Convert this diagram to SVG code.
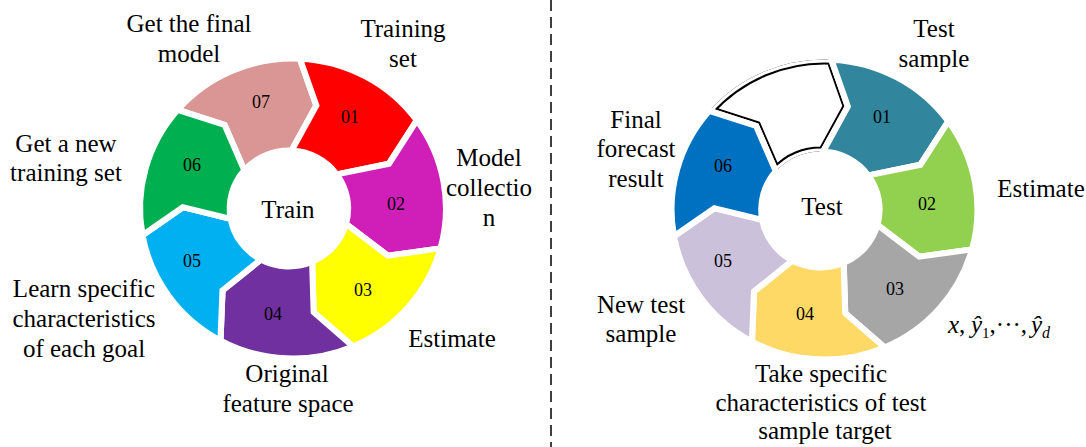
<svg xmlns="http://www.w3.org/2000/svg" xmlns:xlink="http://www.w3.org/1999/xlink" width="1086" height="447" viewBox="0 0 1086 447">
<style>
.seg{stroke:#fff;stroke-width:6;stroke-linejoin:miter}
.num{font-family:"Liberation Serif","Times New Roman",serif;font-size:18px;fill:#000;text-anchor:middle}
.lbl{font-family:"Liberation Serif","Times New Roman",serif;font-size:25px;fill:#000;text-anchor:middle}
.frm{font-family:"Liberation Serif","Times New Roman",serif;font-size:25px;fill:#000}
</style>
<defs>
<path id="s1" d="M6.72,-149.85 A150,150 0 0 1 121.35,-88.17 L94.07,-44.8 L42.92,-34.09 A58,58 0 0 0 -1.4,-57.94 L22.87,-103.04 Z"/>
<path id="s2" d="M121.35,-88.17 A150,150 0 0 1 144.6,39.9 L92.92,47.18 L51.91,15.43 A58,58 0 0 0 42.92,-34.09 L94.07,-44.8 Z"/>
<path id="s3" d="M144.6,39.9 A150,150 0 0 1 58.95,137.93 L20.29,103.63 L18.79,53.33 A58,58 0 0 0 51.91,15.43 L92.92,47.18 Z"/>
<path id="s4" d="M58.95,137.93 A150,150 0 0 1 -71.1,132.08 L-69.11,82.04 L-31.49,51.07 A58,58 0 0 0 18.79,53.33 L20.29,103.63 Z"/>
<path id="s5" d="M-71.1,132.08 A150,150 0 0 1 -147.59,26.79 L-107.99,-1.31 L-61.07,10.36 A58,58 0 0 0 -31.49,51.07 L-69.11,82.04 Z"/>
<path id="s6" d="M-147.59,26.79 A150,150 0 0 1 -112.97,-98.69 L-67.07,-83.69 L-47.68,-38.16 A58,58 0 0 0 -61.07,10.36 L-107.99,-1.31 Z"/>
<path id="s7" d="M-112.97,-98.69 A150,150 0 0 1 6.72,-149.85 L22.87,-103.04 L-1.4,-57.94 A58,58 0 0 0 -47.68,-38.16 L-67.07,-83.69 Z"/>
<clipPath id="clip7"><use href="#s7" xlink:href="#s7"/></clipPath>
</defs>
<rect x="0" y="0" width="1086" height="447" fill="#fff"/>

<g id="divider">
<line x1="551" y1="0" x2="551" y2="447" stroke="#000" stroke-width="1.5" stroke-dasharray="11 6"/>
</g>

<!-- Left cycle: Train -->
<g id="train-cycle">
<g transform="translate(293,208.5) scale(1.02,1)">
<g id="train-07"><use href="#s7" xlink:href="#s7" class="seg" fill="#D99694"/></g>
<g id="train-01"><use href="#s1" xlink:href="#s1" class="seg" fill="#FF0000"/></g>
<g id="train-02"><use href="#s2" xlink:href="#s2" class="seg" fill="#CF1FB8"/></g>
<g id="train-03"><use href="#s3" xlink:href="#s3" class="seg" fill="#FFFF00"/></g>
<g id="train-04"><use href="#s4" xlink:href="#s4" class="seg" fill="#7030A0"/></g>
<g id="train-05"><use href="#s5" xlink:href="#s5" class="seg" fill="#00B0F0"/></g>
<g id="train-06"><use href="#s6" xlink:href="#s6" class="seg" fill="#00B050"/></g>
</g>
<g id="train-nums">
<text class="num" x="350" y="123">01</text>
<text class="num" x="396" y="210">02</text>
<text class="num" x="363" y="296">03</text>
<text class="num" x="273" y="320">04</text>
<text class="num" x="192" y="267">05</text>
<text class="num" x="192" y="171">06</text>
<text class="num" x="261" y="108">07</text>
</g>
<g id="train-center"><text class="lbl" x="288" y="218">Train</text></g>
</g>

<g id="train-labels">
<text class="lbl" x="189" y="32">Get the final</text>
<text class="lbl" x="189" y="62">model</text>
<text class="lbl" x="403" y="37">Training</text>
<text class="lbl" x="403" y="67">set</text>
<text class="lbl" x="489" y="166">Model</text>
<text class="lbl" x="489" y="196">collectio</text>
<text class="lbl" x="489" y="226">n</text>
<text class="lbl" x="452" y="347">Estimate</text>
<text class="lbl" x="287" y="382">Original</text>
<text class="lbl" x="288" y="412">feature space</text>
<text class="lbl" x="84" y="297">Learn specific</text>
<text class="lbl" x="84" y="327">characteristics</text>
<text class="lbl" x="84" y="357">of each goal</text>
<text class="lbl" x="66" y="152">Get a new</text>
<text class="lbl" x="66" y="181">training set</text>
</g>

<!-- Right cycle: Test -->
<g id="test-cycle">
<g transform="translate(824.5,209.5) scale(1.02,1)">
<g id="test-07">
<g clip-path="url(#clip7)">
<use href="#s7" xlink:href="#s7" fill="#fff" stroke="#000" stroke-width="10"/>
<use href="#s7" xlink:href="#s7" fill="none" stroke="#fff" stroke-width="6"/>
</g>
</g>
<g id="test-01"><use href="#s1" xlink:href="#s1" class="seg" fill="#31859C"/></g>
<g id="test-02"><use href="#s2" xlink:href="#s2" class="seg" fill="#92D050"/></g>
<g id="test-03"><use href="#s3" xlink:href="#s3" class="seg" fill="#A6A6A6"/></g>
<g id="test-04"><use href="#s4" xlink:href="#s4" class="seg" fill="#FFD966"/></g>
<g id="test-05"><use href="#s5" xlink:href="#s5" class="seg" fill="#CCC1DA"/></g>
<g id="test-06"><use href="#s6" xlink:href="#s6" class="seg" fill="#0070C0"/></g>
</g>
<g id="test-nums">
<text class="num" x="882" y="123">01</text>
<text class="num" x="927" y="210">02</text>
<text class="num" x="895" y="295">03</text>
<text class="num" x="805" y="320">04</text>
<text class="num" x="723" y="267">05</text>
<text class="num" x="723" y="172">06</text>
</g>
<g id="test-center"><text class="lbl" x="822" y="215">Test</text></g>
</g>

<g id="test-labels">
<text class="lbl" x="934" y="37">Test</text>
<text class="lbl" x="934" y="67">sample</text>
<text class="lbl" x="1041" y="197">Estimate</text>
<text class="lbl" x="636" y="128">Final</text>
<text class="lbl" x="636" y="157">forecast</text>
<text class="lbl" x="636" y="187">result</text>
<text class="lbl" x="641" y="313">New test</text>
<text class="lbl" x="641" y="342">sample</text>
<text class="lbl" x="821" y="382">Take specific</text>
<text class="lbl" x="821" y="411">characteristics of test</text>
<text class="lbl" x="825" y="439">sample target</text>
<text class="frm" y="333"><tspan x="948" font-style="italic">x</tspan><tspan>,</tspan><tspan x="971" font-style="italic">ŷ</tspan><tspan font-size="15" dy="5">1</tspan><tspan dy="-5">,···,</tspan><tspan x="1031" font-style="italic">ŷ</tspan><tspan font-size="16" font-style="italic" dy="5">d</tspan></text>
</g>
</svg>
